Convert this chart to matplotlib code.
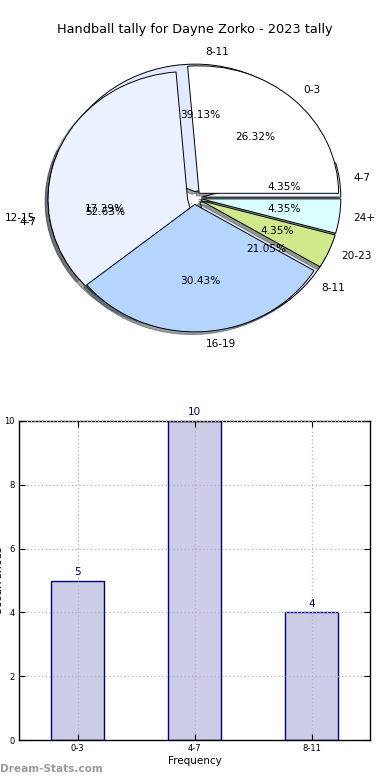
import matplotlib
matplotlib.use('Agg')
import matplotlib.pyplot as plt
import matplotlib.patches as mpatches

# tally of the season (pie drawn over an older one)
season_labels = ['4-7', '8-11', '12-15', '16-19', '20-23', '24+']
season_counts = [1, 9, 4, 7, 1, 1]

tally_labels = ['0-3', '4-7', '8-11']
tally_counts = [5, 10, 4]

bucket_colors = {
    '0-3': '#ffffff',
    '4-7': '#ebf1ff',
    '8-11': '#e2eaff',
    '12-15': '#dde8ff',
    '16-19': '#b5d5ff',
    '20-23': '#cfe98b',
    '24+': '#d9ffff',
}
on_top = ['16-19', '20-23', '24+']

title = 'Handball tally for Dayne Zorko - 2023 tally'

fig = plt.figure(figsize=(3.9, 7.8), dpi=100)
fig.text(0.5, 1 - 30 / 780, title, ha='center', va='center', fontsize=9.3)

# pie
ax1 = fig.add_axes([0.0515, 0.5418, 0.894, 0.4087])
wedge_style = {'edgecolor': 'black', 'linewidth': 0.7}
shadow_style = {'ox': -0.015, 'oy': -0.015}

wa, ta, pa = ax1.pie(season_counts, labels=season_labels,
                     colors=[bucket_colors[l] for l in season_labels],
                     explode=[0.05] * len(season_counts), autopct='%1.2f%%',
                     shadow=shadow_style, wedgeprops=wedge_style,
                     textprops={'fontsize': 7.6}, labeldistance=1.1,
                     pctdistance=0.6)
wb, tb, pb = ax1.pie(tally_counts, labels=tally_labels,
                     colors=[bucket_colors[l] for l in tally_labels],
                     explode=[0.05] * len(tally_counts), autopct='%1.2f%%',
                     shadow=shadow_style, wedgeprops=wedge_style,
                     textprops={'fontsize': 7.6}, labeldistance=1.1,
                     pctdistance=0.6)

shadows = {p.patch: p for p in ax1.patches if isinstance(p, mpatches.Shadow)}
for w, lab in zip(wa, season_labels):
    if lab in on_top:
        w.set_zorder(2)
        if w in shadows:
            shadows[w].set_zorder(1.9)

ax1.set_aspect('auto')
ax1.set_xlim(-1.25, 1.25)
ax1.set_ylim(-1.25, 1.25)
ax1.axis('off')

# bars
ax2 = fig.add_axes([19 / 390, 40 / 780, 351 / 390, 319 / 780])
x = range(len(tally_labels))
ax2.bar(x, tally_counts, width=0.45, color='#ccccE6', edgecolor='navy',
        linewidth=1)
for xi, v in zip(x, tally_counts):
    ax2.text(xi, v + 0.12, str(v), ha='center', va='bottom', color='navy',
             fontsize=7.5, clip_on=False)
ax2.set_xlim(-0.5, 2.5)
ax2.set_ylim(0, 10)
ax2.set_xticks(list(x))
ax2.set_xticklabels(tally_labels)
ax2.set_yticks(range(0, 11, 2))
ax2.tick_params(direction='in', top=True, right=True, length=4,
                labelsize=6, pad=3)
ax2.grid(True, linestyle=(0, (1, 2)), color='#b5b5b5', linewidth=0.9)
ax2.set_axisbelow(False)
ax2.set_xlabel('Frequency', fontsize=7.5, labelpad=2)
for s in ax2.spines.values():
    s.set_linewidth(1)

# y label sits mostly off the left edge, as in the original
fig.text(-0.004, 0.256, 'Occurrences', rotation=90, ha='center',
         va='center', fontsize=8)
fig.text(0.0, 6 / 780, 'Dream-Stats.com', ha='left', va='bottom',
         fontsize=7.6, fontweight='bold', color='#9a9a9a')

fig.savefig('out.png', dpi=100)
